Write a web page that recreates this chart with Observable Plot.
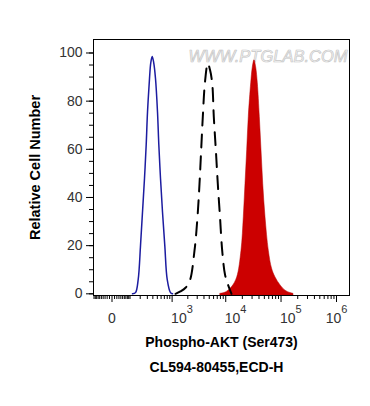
<!DOCTYPE html>
<html>
<head>
<meta charset="utf-8">
<script src="https://cdn.jsdelivr.net/npm/d3@7"></script>
<script src="https://cdn.jsdelivr.net/npm/@observablehq/plot@0.6"></script>
<style>
  html, body { margin: 0; padding: 0; background: #fff; }
</style>
</head>
<body>
<div id="chart"></div>
<script>
// Fluorescence intensity (raw, logicle-like axis) and relative cell number
const blueX = [120.7, 148.6, 176.9, 203.7, 229.1, 256.7, 282, 302.8, 336.6, 360.2, 387.2, 417.7, 457.1, 504.5, 537.6, 583.1, 641.3, 714.9, 799, 929.8, 1018];
const blueY = [0, 0.5, 6, 20, 34, 48, 62, 75.5, 89.4, 96, 98.5, 96, 89.4, 75.5, 62, 48, 34, 20, 6, 0.5, 0];

const dashX = [1165, 1453, 1810, 2181, 2669, 3036, 3307, 3554, 3806, 4178, 4703, 5160, 5665, 6058, 6590, 7168, 7857, 8622, 9693, 10900, 12730];
const dashY = [0, 1, 2.5, 5.4, 17.9, 32, 45.7, 60, 73.5, 88, 95.7, 93, 87.4, 73.5, 60, 45.7, 32, 17.9, 8, 4, 0];

const redX = [8028, 9495, 11220, 13270, 16150, 19310, 21260, 22820, 24490, 26170, 28940, 30920, 33170, 35600, 38080, 41380, 44400, 47660, 52440, 60140, 68710, 79480, 97850, 120400, 148200, 167800];
const redY = [0, 0.3, 1.3, 3, 6.8, 17.9, 31.8, 45.7, 59.6, 73.5, 87.4, 94, 97, 94, 87.4, 73.5, 59.6, 45.7, 31.8, 17.9, 10.5, 6.8, 3.5, 1.3, 0.3, 0];

const yMajor = [0, 20, 40, 60, 80, 100];
const yMinor = d3.range(0, 101, 5);
const xMajor = [0, 1e3, 1e4, 1e5, 1e6];
const xMinor = [
  ...d3.range(-100, 0, 10), ...d3.range(10, 100, 10), ...d3.range(100, 1000, 100),
  ...d3.range(2e3, 1e4, 1e3), ...d3.range(2e4, 1e5, 1e4), ...d3.range(2e5, 1e6, 1e5)
];
const xLabelsCentered = [0, 1e6];
const xLabelsStart = [1e3, 1e4, 1e5];
const xTitle = "Phospho-AKT (Ser473)";
const xSubtitle = "CL594-80455,ECD-H";
const yTitle = "Relative Cell Number";
const watermark = "WWW.PTGLAB.COM";

const toRows = (xs, ys) => xs.map((x, i) => ({x, v: ys[i]}));
const blue = toRows(blueX, blueY);
const dashed = toRows(dashX, dashY);
const red = toRows(redX, redY);

const yMin = -0.7, yMax = 105.6;
const fmt = d => d === 0 ? "0" : "10^" + Math.round(Math.log10(d));

const plot = Plot.plot({
  width: 370,
  height: 406,
  marginLeft: 93,
  marginRight: 21,
  marginTop: 39,
  marginBottom: 111,
  style: {fontFamily: "'Liberation Sans', Arial, sans-serif", fontSize: "14px", background: "#fff", color: "#222"},
  x: {type: "symlog", constant: 90, domain: [-104, 1.715e6]},
  y: {domain: [yMin, yMax]},
  marks: [
    Plot.text([watermark], {frameAnchor: "top-right", dx: -2, dy: 17, textAnchor: "end", lineAnchor: "middle", fontSize: 16.5, fontStyle: "italic", fill: "#f7f7f7", stroke: "#c6c6c6", strokeWidth: 0.7, paintOrder: "fill"}),
    Plot.areaY(red, {x: "x", y1: yMin, y2: "v", fill: "#cc0000", stroke: "#b40000", strokeWidth: 0.5, curve: "catmull-rom"}),
    Plot.line(dashed, {x: "x", y: "v", stroke: "#000", strokeWidth: 2, strokeDasharray: "13,9", curve: "catmull-rom"}),
    Plot.line(blue, {x: "x", y: "v", stroke: "#1c1ca0", strokeWidth: 1.5, curve: "catmull-rom"}),
    Plot.frame({stroke: "#000"}),
    Plot.axisY({ticks: yMajor, tickSize: 7, tickPadding: 4, fontSize: 14, label: null, stroke: "#000", fill: "#333"}),
    Plot.axisY({ticks: yMinor, tickSize: 4, tickFormat: () => "", label: null, stroke: "#000"}),
    Plot.axisX({ticks: xMajor, tickSize: 7, tickFormat: () => "", label: null, stroke: "#000"}),
    Plot.axisX({ticks: xMinor, tickSize: 4, tickFormat: () => "", label: null, stroke: "#000"}),
    Plot.text(xLabelsCentered, {x: d => d, text: fmt, frameAnchor: "bottom", lineAnchor: "middle", dy: 23.5, fontSize: 14, fill: "#333"}),
    Plot.text(xLabelsStart, {x: d => d, text: fmt, frameAnchor: "bottom", lineAnchor: "middle", dy: 23.5, dx: -1, textAnchor: "start", fontSize: 14, fill: "#333"}),
    Plot.text([yTitle], {frameAnchor: "left", textAnchor: "middle", lineAnchor: "middle", dx: -58.5, rotate: -90, fontWeight: "bold", fontSize: 14.5, fill: "#000"}),
    Plot.text([xTitle], {frameAnchor: "bottom", lineAnchor: "middle", dy: 47, fontWeight: "bold", fontSize: 14, fill: "#000"}),
    Plot.text([xSubtitle], {frameAnchor: "bottom", lineAnchor: "middle", dy: 72, dx: -5, fontWeight: "bold", fontSize: 14, fill: "#000"})
  ]
});

d3.select(plot).selectAll("text").each(function() {
  const t = this.textContent;
  if (/^10\^\d$/.test(t)) {
    const [b, e] = t.split("^");
    this.textContent = "";
    const s = d3.select(this);
    s.append("tspan").text(b);
    s.append("tspan").attr("dy", "-10.5").attr("font-size", "11").text(e);
  }
});

document.getElementById("chart").appendChild(plot);
</script>
</body>
</html>
